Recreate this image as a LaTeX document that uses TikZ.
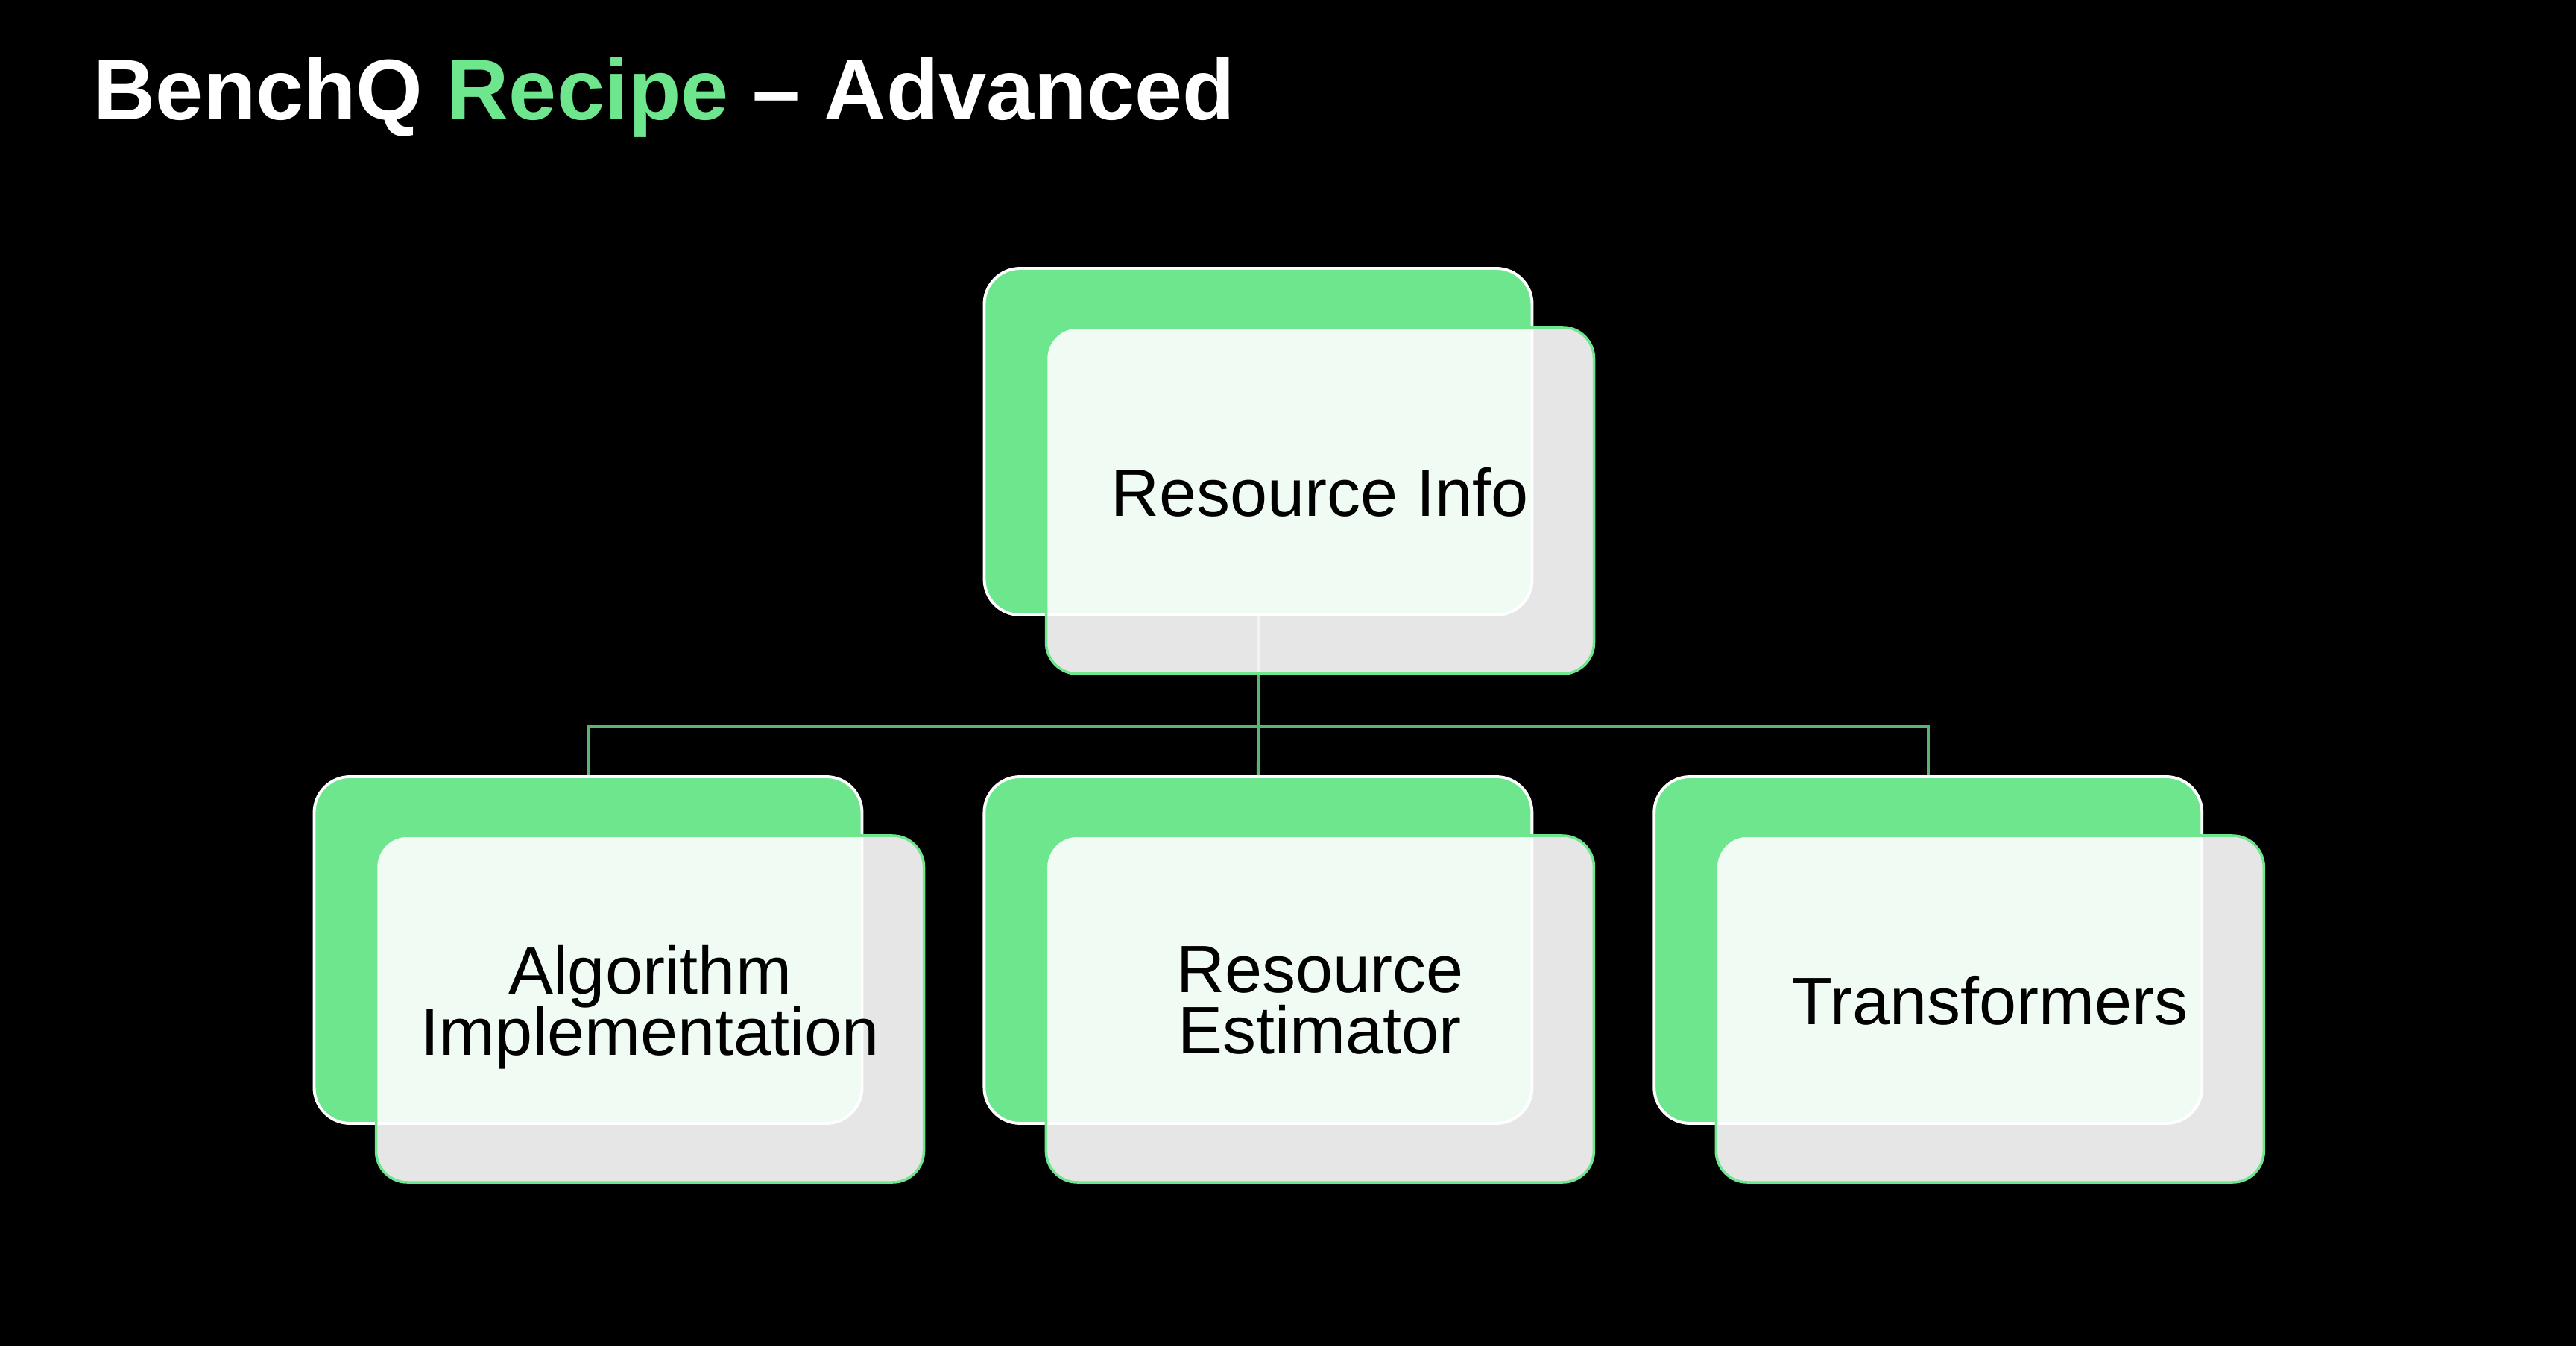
\documentclass[tikz,border=0pt]{standalone}
\usepackage{fontspec}
\setmainfont{Liberation Sans}
\usetikzlibrary{positioning}
\definecolor{benchgreen}{RGB}{110,230,141}
\definecolor{linkgreen}{RGB}{88,182,112}
\newcommand{\cardfont}{\fontsize{25.6}{23.3}\selectfont\setlength{\lineskiplimit}{-10pt}}

\begin{document}
\begin{tikzpicture}[
  backcard/.style={draw=white, line width=1.1pt, fill=benchgreen, rounded corners=0.48cm,
    minimum width=7.35cm, minimum height=4.65cm},
  frontcard/.style={draw=benchgreen, line width=1pt, fill=white, fill opacity=0.9,
    rounded corners=0.42cm, minimum width=7.35cm, minimum height=4.65cm},
  cardtext/.style={align=center, text=black, text depth=0pt, font=\cardfont},
  link/.style={draw=linkgreen, line width=1.1pt}
]
  % background
  \fill[black] (0,0) rectangle (34.56,18.06);
  \node[anchor=base west, inner sep=0pt, text=white, font=\fontsize{32.8}{40}\selectfont\bfseries] (title) at (1.25,16.45)
    {BenchQ \textcolor{benchgreen}{Recipe} – Advanced};

  % back cards
  \node[backcard] (info) at (16.88,12.135) {};
  \node[backcard] (algo) at (7.89,5.315) {};
  \node[backcard, right=1.60cm of algo] (est) {};
  \node[backcard, right=1.60cm of est] (trans) {};

  % tree lines
  \draw[link] (info.south) -- ++(0,-1.47) coordinate (bus);
  \draw[link] (bus) -| (algo.north);
  \draw[link] (bus) -- (est.north);
  \draw[link] (bus) -| (trans.north);

  % front cards
  \node[frontcard] (infoF) at ([shift={(0.83,-0.79)}]info.center) {};
  \node[frontcard] (algoF) at ([shift={(0.83,-0.79)}]algo.center) {};
  \node[frontcard] (estF) at ([shift={(0.83,-0.79)}]est.center) {};
  \node[frontcard] (transF) at ([shift={(0.83,-0.79)}]trans.center) {};

  \node[cardtext] (infoT) at ([yshift=0.12cm]infoF.center) {Resource Info};
  \node[cardtext] (algoT) at ([yshift=0.12cm]algoF.center) {Algorithm\\Implementation};
  \node[cardtext] (estT) at ([yshift=0.12cm]estF.center) {Resource\\Estimator};
  \node[cardtext] (transT) at ([yshift=0.12cm]transF.center) {Transformers};
\end{tikzpicture}
\end{document}
